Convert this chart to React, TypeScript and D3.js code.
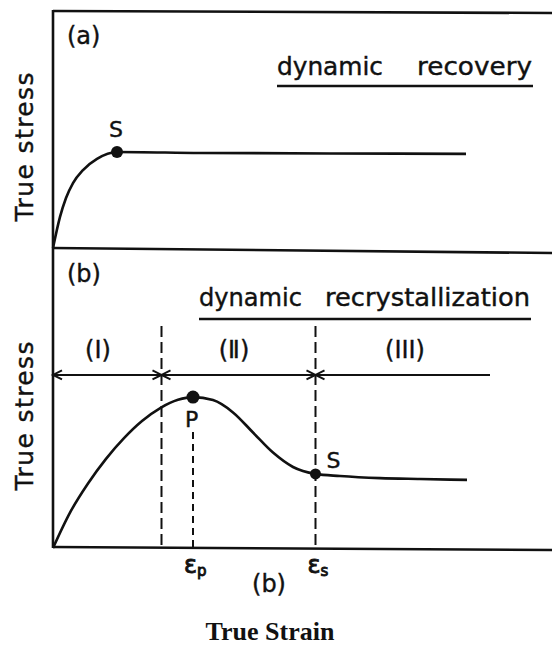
import React from 'react';
import * as d3 from 'd3';

// panel (a): dynamic recovery curve, strain / stress in relative units
const recoveryStrain = [0, 0.014, 0.026, 0.04, 0.06, 0.088, 0.128, 0.294, 0.554, 0.826];
const recoveryStress = [0, 0.131, 0.211, 0.274, 0.329, 0.376, 0.405, 0.401, 0.399, 0.397];
const recoverySat = { strain: 0.128, stress: 0.405 };

// panel (b): dynamic recrystallization curve
const recrystStrain = [0, 0.034, 0.07, 0.106, 0.142, 0.178, 0.216, 0.25, 0.28, 0.32, 0.36, 0.4, 0.44, 0.48, 0.525, 0.574, 0.654, 0.734, 0.828];
const recrystStress = [0, 0.118, 0.215, 0.297, 0.366, 0.423, 0.468, 0.494, 0.503, 0.493, 0.452, 0.385, 0.318, 0.27, 0.247, 0.24, 0.233, 0.23, 0.227];
const peakPoint = { strain: 0.28, stress: 0.503 };
const steadyPoint = { strain: 0.525, stress: 0.247 };

// stage boundaries and labels
const stageEdges = [0, 0.217, 0.525, 0.874];
const stageLabels = ['(I)', '(\u2161)', '(III)'];
const stageLabelAt = [0.09, 0.362, 0.704];
const stageLineStress = 0.577;
const dashTopStress = 0.74;

const sans = '"DejaVu Sans", sans-serif';
const ink = '#111';

const App = () => {
	const x = d3.scaleLinear().domain([0, 1]).range([53, 553]);
	const yA = d3.scaleLinear().domain([0, 1]).range([248, 11]);
	const yB = d3.scaleLinear().domain([0, 1]).range([548, 248]);

	const lineA = d3
		.line<number>()
		.x((d, i) => x(recoveryStrain[i]))
		.y((d) => yA(d))
		.curve(d3.curveMonotoneX);
	const lineB = d3
		.line<number>()
		.x((d, i) => x(recrystStrain[i]))
		.y((d) => yB(d))
		.curve(d3.curveMonotoneX);

	// little open arrowhead, dir = 1 points right, -1 points left
	const arrowHead = (tip: number, y: number, dir: number) =>
		`M${tip - dir * 9},${y - 4.5}L${tip},${y}L${tip - dir * 9},${y + 4.5}`;

	const yStage = yB(stageLineStress);
	const txt = { fontFamily: sans, fill: ink, stroke: ink, strokeWidth: 0.4 };

	return (
		<svg width={552} height={648} style={{ position: 'absolute', left: 0, top: 0, background: '#fff' }}>
			{/* frame */}
			<g stroke={ink} strokeWidth={2.6} fill="none">
				<line x1={53} y1={11} x2={552} y2={13} />
				<line x1={53} y1={248} x2={552} y2={253} />
				<line x1={53} y1={547} x2={552} y2={550} />
				<line x1={53} y1={10} x2={53} y2={548} />
			</g>

			{/* y labels */}
			<text transform="translate(33,147) rotate(-90)" textAnchor="middle" {...txt} fontSize={25} textLength={149} lengthAdjust="spacing">
				True stress
			</text>
			<text transform="translate(33,416) rotate(-90)" textAnchor="middle" {...txt} fontSize={25} textLength={149} lengthAdjust="spacing">
				True stress
			</text>

			{/* panel (a) */}
			<text x={67} y={44} {...txt} fontSize={24}>(a)</text>
			<text x={277} y={75} {...txt} fontSize={24} textLength={106} lengthAdjust="spacingAndGlyphs">dynamic</text>
			<text x={417} y={75} {...txt} fontSize={24} textLength={115} lengthAdjust="spacingAndGlyphs">recovery</text>
			<line x1={277} y1={86} x2={533} y2={86} stroke={ink} strokeWidth={2.4} />
			<path d={lineA(recoveryStress) || ''} fill="none" stroke={ink} strokeWidth={2.6} />
			<circle cx={x(recoverySat.strain)} cy={yA(recoverySat.stress)} r={6} fill={ink} />
			<text x={x(recoverySat.strain) - 8} y={yA(recoverySat.stress) - 15} {...txt} fontSize={22}>S</text>

			{/* panel (b) */}
			<text x={67} y={282} {...txt} fontSize={24}>(b)</text>
			<text x={199} y={306} {...txt} fontSize={24} textLength={103} lengthAdjust="spacingAndGlyphs">dynamic</text>
			<text x={325} y={306} {...txt} fontSize={24} textLength={205} lengthAdjust="spacingAndGlyphs">recrystallization</text>
			<line x1={199} y1={319} x2={531} y2={319} stroke={ink} strokeWidth={2.4} />

			{stageLabels.map((lab, i) => (
				<text key={lab} x={x(stageLabelAt[i])} y={358} textAnchor="middle" {...txt} fontSize={24}>
					{lab}
				</text>
			))}

			{/* stage arrows */}
			<g stroke={ink} strokeWidth={2} fill="none">
				<line x1={x(stageEdges[0])} y1={yStage} x2={x(stageEdges[3])} y2={yStage} />
				<path d={arrowHead(x(stageEdges[0]), yStage, -1)} />
				<path d={arrowHead(x(stageEdges[1]), yStage, 1)} />
				<path d={arrowHead(x(stageEdges[1]), yStage, -1)} />
				<path d={arrowHead(x(stageEdges[2]), yStage, 1)} />
				<path d={arrowHead(x(stageEdges[2]), yStage, -1)} />
			</g>

			{/* stage boundaries and peak strain */}
			<g stroke={ink} strokeWidth={2} fill="none">
				<line x1={x(stageEdges[1])} y1={yB(dashTopStress)} x2={x(stageEdges[1])} y2={548} strokeDasharray="11 5" />
				<line x1={x(stageEdges[2])} y1={yB(dashTopStress)} x2={x(stageEdges[2])} y2={548} strokeDasharray="11 5" />
				<line x1={x(peakPoint.strain)} y1={yB(peakPoint.stress) + 35} x2={x(peakPoint.strain)} y2={548} strokeDasharray="7 5" />
			</g>

			<path d={lineB(recrystStress) || ''} fill="none" stroke={ink} strokeWidth={2.6} />
			<circle cx={x(peakPoint.strain)} cy={yB(peakPoint.stress)} r={6.5} fill={ink} />
			<circle cx={x(steadyPoint.strain)} cy={yB(steadyPoint.stress)} r={5.5} fill={ink} />
			<text x={x(peakPoint.strain) - 8} y={427} {...txt} fontSize={22}>P</text>
			<text x={x(steadyPoint.strain) + 11} y={468} {...txt} fontSize={22}>S</text>

			{/* strain marks */}
			<text x={x(peakPoint.strain) - 9} y={573} {...txt} strokeWidth={0.9} fontSize={24}>
				ε<tspan fontSize={15} dy={3}>p</tspan>
			</text>
			<text x={x(steadyPoint.strain) - 8} y={573} {...txt} strokeWidth={0.9} fontSize={24}>
				ε<tspan fontSize={15} dy={3}>s</tspan>
			</text>
			<text x={269} y={592} textAnchor="middle" {...txt} fontSize={24}>(b)</text>

			<text x={270} y={640} textAnchor="middle" fontFamily='"Liberation Serif", serif' fontWeight="bold" fontSize={26} fill={ink}>
				True Strain
			</text>
		</svg>
	);
};

export default App;
